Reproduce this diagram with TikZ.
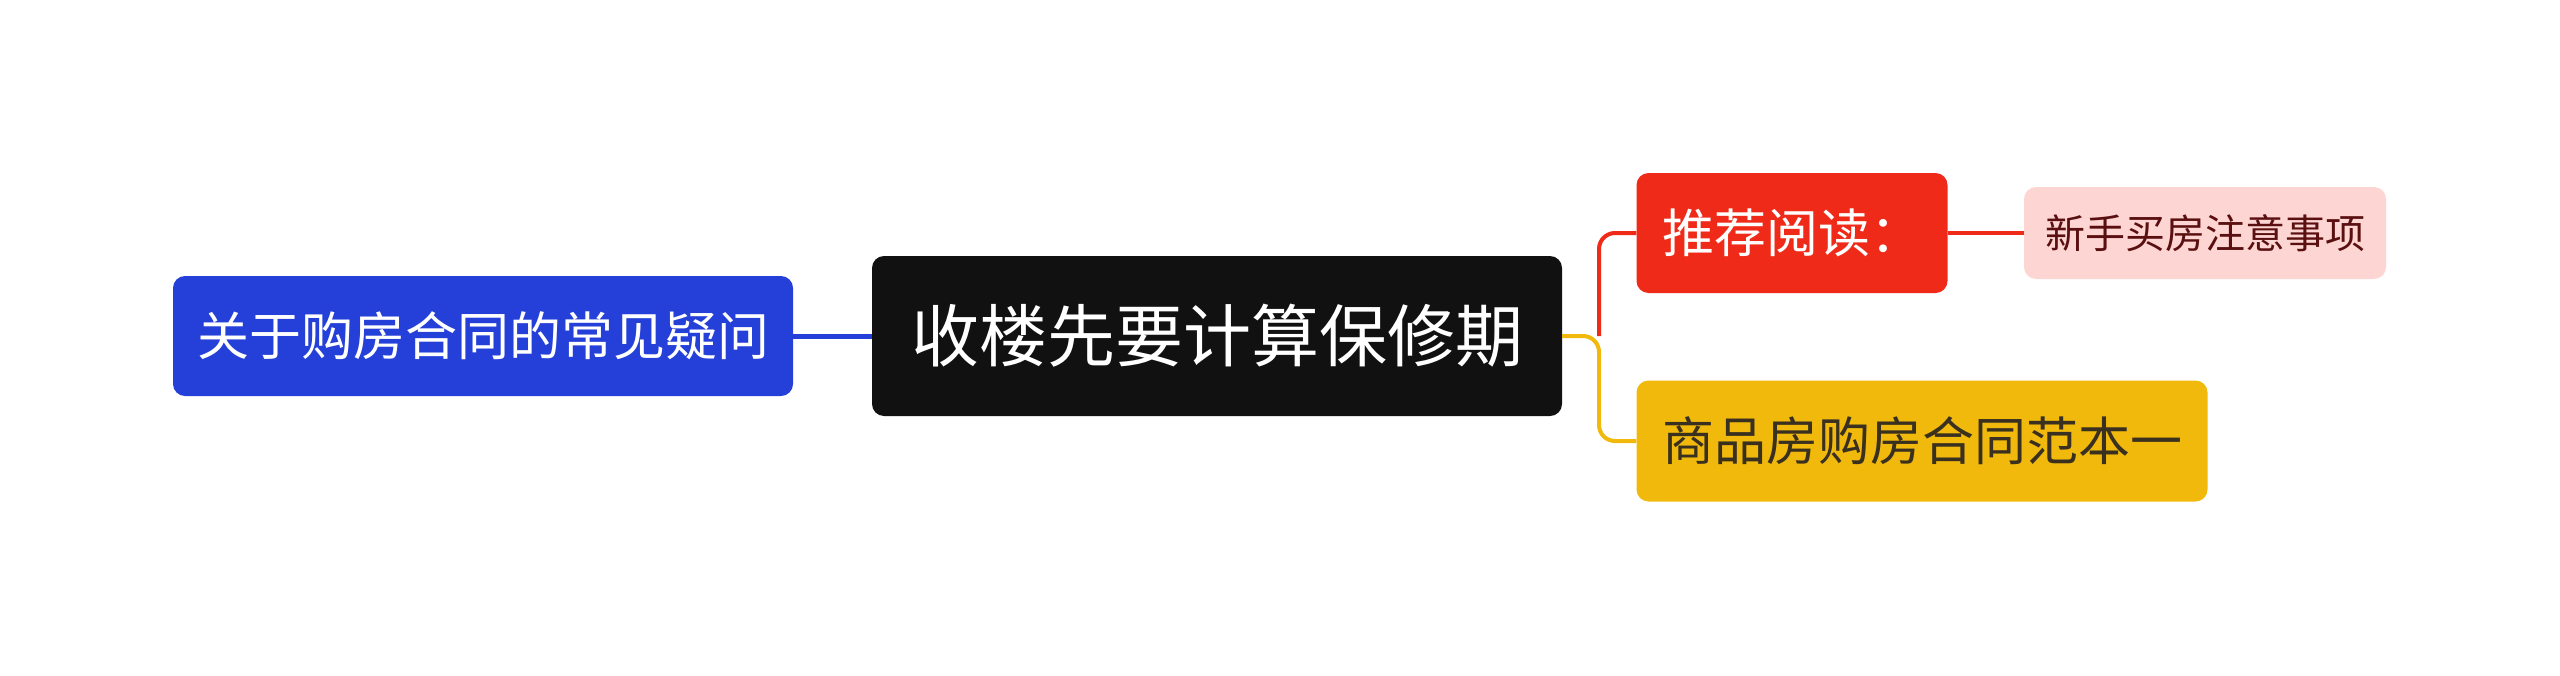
\documentclass[tikz,border=0pt]{standalone}
\usepackage{fontspec}
\newfontfamily\cjk{Noto Sans CJK SC}
\usepackage{tikz}
\definecolor{rootblack}{HTML}{111111}
\definecolor{leftblue}{HTML}{2440D8}
\definecolor{readred}{HTML}{F02A18}
\definecolor{tippink}{HTML}{FDD5D3}
\definecolor{tiptext}{HTML}{5A1010}
\definecolor{bookyellow}{HTML}{F0B90B}
\definecolor{booktext}{HTML}{3A3020}

\begin{document}
\begin{tikzpicture}[x=1pt,y=-1pt,
    box/.style={rounded corners=12pt, inner sep=0pt, align=center},
    link/.style={line width=4pt, rounded corners=16pt}]
      \useasboundingbox (0,0) rectangle (2560,675);
      \node[box, fill=rootblack, text=white, minimum width=690pt, minimum height=160pt]
        (root) at (1217,336) {\cjk\fontsize{68}{80}\selectfont 收楼先要计算保修期};
      \node[box, fill=leftblue, text=white, minimum width=620pt, minimum height=120pt]
        (faq) at (483,336) {\cjk\fontsize{52}{62}\selectfont 关于购房合同的常见疑问};
      \node[box, fill=readred, text=white, minimum width=311pt, minimum height=120pt]
        (read) at (1792,233) {\cjk\fontsize{52}{62}\selectfont 推荐阅读：};
      \node[box, fill=tippink, text=tiptext, minimum width=362pt, minimum height=92pt]
        (tips) at (2205,233) {\cjk\fontsize{40}{48}\selectfont 新手买房注意事项};
      \node[box, fill=bookyellow, text=booktext, minimum width=571pt, minimum height=121pt]
        (book) at (1922,441) {\cjk\fontsize{52}{62}\selectfont 商品房购房合同范本一};
      \coordinate (fork) at (1599,336);
      % connectors
      \draw[leftblue, line width=5pt] (faq.east) -- (root.west);
      \draw[link, readred] (fork) |- (read.west);
      \draw[link, bookyellow] (root.east) -- (fork) |- (book.west);
      \draw[link, readred] (read.east) -- (tips.west);
\end{tikzpicture}
\end{document}
